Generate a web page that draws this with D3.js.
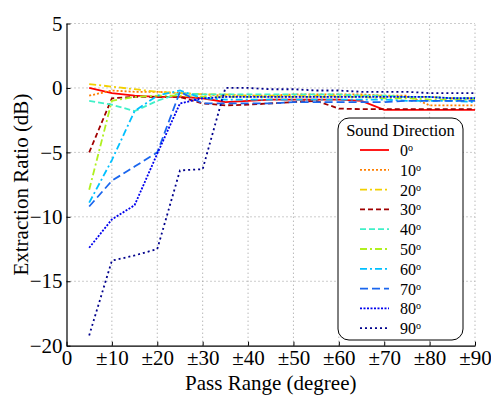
<!DOCTYPE html>
<html>
<head>
<meta charset="utf-8">
<script src="https://cdn.jsdelivr.net/npm/d3@7"></script>
<style>
  body { margin: 0; background: #fff; }
  svg { font-family: "Liberation Serif", "Times New Roman", serif; }
</style>
</head>
<body>
<div id="chart"></div>
<script>
// pass range (degree) sampled every 5
var passRange = [5, 10, 15, 20, 25, 30, 35, 40, 45, 50, 55, 60, 65, 70, 75, 80, 85, 90];

var dir0  = [0.0, -0.4, -0.6, -0.7, -0.7, -0.8, -1.1, -1.0, -0.9, -0.9, -0.9, -0.9, -1.0, -1.7, -1.7, -1.7, -1.7, -1.7];
var dir10 = [-0.6, -0.2, -0.3, -0.3, -0.4, -0.5, -0.6, -0.6, -0.6, -0.5, -0.5, -0.5, -0.5, -0.6, -0.6, -1.35, -1.35, -1.35];
var dir20 = [0.3, 0.1, -0.1, -0.3, -0.4, -0.5, -0.5, -0.6, -0.6, -0.6, -0.6, -0.6, -0.6, -0.6, -0.7, -0.7, -0.8, -0.8];
var dir30 = [-5.0, -0.8, -0.7, -0.7, -0.7, -1.2, -1.35, -1.3, -1.2, -1.1, -1.0, -1.6, -1.65, -1.65, -1.65, -1.65, -1.65, -1.65];
var dir40 = [-1.0, -1.3, -1.8, -1.0, -0.4, -0.5, -0.5, -0.5, -0.5, -0.5, -0.5, -0.5, -0.6, -0.6, -0.7, -0.7, -0.8, -0.8];
var dir50 = [-7.9, -1.0, -0.7, -0.6, -0.6, -0.7, -0.7, -0.7, -0.7, -0.7, -0.7, -0.7, -0.7, -0.8, -0.8, -0.9, -0.9, -0.9];
var dir60 = [-8.9, -5.6, -1.8, -0.6, -0.2, -0.8, -0.9, -0.9, -0.9, -0.9, -0.9, -0.9, -0.9, -0.9, -1.0, -1.0, -1.0, -1.1];
var dir70 = [-9.2, -7.2, -6.1, -5.0, -0.3, -1.2, -1.2, -1.2, -1.2, -1.1, -1.1, -1.1, -1.1, -1.1, -1.0, -1.0, -1.0, -1.0];
var dir80 = [-12.4, -10.2, -9.1, -5.1, -1.2, -0.8, -0.7, -0.7, -0.7, -0.7, -0.7, -0.7, -0.7, -0.7, -0.7, -0.7, -0.8, -0.8];
var dir90 = [-19.2, -13.4, -13.0, -12.5, -6.4, -6.3, 0.0, 0.0, -0.1, -0.1, -0.2, -0.2, -0.3, -0.3, -0.3, -0.4, -0.4, -0.4];

var directions = [0, 10, 20, 30, 40, 50, 60, 70, 80, 90];
var seriesValues = [dir0, dir10, dir20, dir30, dir40, dir50, dir60, dir70, dir80, dir90];

var xTicks = [0, 10, 20, 30, 40, 50, 60, 70, 80, 90];
var xTickLabels = ["0", "±10", "±20", "±30", "±40", "±50", "±60", "±70", "±80", "±90"];
var yTicks = [5, 0, -5, -10, -15, -20];

var colors = ["#ff0000", "#ff7f00", "#f2d000", "#a00000", "#40f0c8", "#b0f020", "#00c0ff", "#1a66ee", "#0000ee", "#00008c"];
var dashes = ["none", "2,2", "7,3,2,3", "5,3", "6,3", "7,3,2,3", "7,3,2,3", "8,4", "2,1.5", "2,3"];

var width = 491, height = 396;
var margin = {left: 66.5, right: 16, top: 23.5, bottom: 50.3};

var svg = d3.select("#chart").append("svg")
    .attr("width", width)
    .attr("height", height);

var x = d3.scaleLinear().domain([0, 90]).range([margin.left, width - margin.right]);
var y = d3.scaleLinear().domain([-20, 5]).range([height - margin.bottom, margin.top]);

// dotted grid
svg.append("g").selectAll("line")
    .data(xTicks.slice(1))
    .enter().append("line")
    .attr("x1", function(d) { return x(d); })
    .attr("x2", function(d) { return x(d); })
    .attr("y1", y(-20))
    .attr("y2", y(5))
    .attr("stroke", "#999")
    .attr("stroke-width", 1)
    .attr("stroke-dasharray", "1,3");

svg.append("g").selectAll("line")
    .data(yTicks.slice(0, -1))
    .enter().append("line")
    .attr("x1", x(0))
    .attr("x2", x(90))
    .attr("y1", function(d) { return y(d); })
    .attr("y2", function(d) { return y(d); })
    .attr("stroke", "#999")
    .attr("stroke-width", 1)
    .attr("stroke-dasharray", "1,3");

// axes, ticks pointing inward
var xAxis = svg.append("g")
    .attr("transform", "translate(0," + y(-20) + ")")
    .call(d3.axisBottom(x).tickValues(xTicks).tickSizeInner(-4).tickSizeOuter(0)
        .tickFormat(function(d, i) { return xTickLabels[i]; }));
xAxis.selectAll("text").attr("y", 4).attr("dy", "0.71em")
    .style("font-size", "21px").style("font-family", "Liberation Serif").attr("fill", "#000");

var yAxis = svg.append("g")
    .attr("transform", "translate(" + x(0) + ",0)")
    .call(d3.axisLeft(y).tickValues(yTicks).tickSizeInner(-4).tickSizeOuter(0));
yAxis.selectAll("text").attr("x", -4)
    .style("font-size", "21px").style("font-family", "Liberation Serif").attr("fill", "#000");

svg.selectAll(".domain").attr("stroke", "#000").attr("stroke-width", 1.2);
svg.selectAll(".tick line").attr("stroke", "#000");

// lines
var line = d3.line()
    .x(function(d, i) { return x(passRange[i]); })
    .y(function(d) { return y(d); });

svg.append("g").selectAll("path")
    .data(seriesValues)
    .enter().append("path")
    .attr("d", line)
    .attr("fill", "none")
    .attr("stroke", function(d, i) { return colors[i]; })
    .attr("stroke-width", 1.8)
    .attr("stroke-dasharray", function(d, i) { return dashes[i]; });

// axis titles
svg.append("text")
    .attr("x", (x(0) + x(90)) / 2)
    .attr("y", 390)
    .attr("text-anchor", "middle")
    .style("font-size", "21px")
    .text("Pass Range (degree)");

svg.append("text")
    .attr("transform", "translate(28," + ((y(5) + y(-20)) / 2) + ") rotate(-90)")
    .attr("text-anchor", "middle")
    .style("font-size", "21px")
    .text("Extraction Ratio  (dB)");

// legend
var legend = svg.append("g").attr("transform", "translate(338,118)");
legend.append("rect")
    .attr("width", 125)
    .attr("height", 222)
    .attr("rx", 11)
    .attr("fill", "#fff")
    .attr("stroke", "#000")
    .attr("stroke-width", 1);

legend.append("text")
    .attr("x", 62.5)
    .attr("y", 18)
    .attr("text-anchor", "middle")
    .style("font-size", "16.5px")
    .text("Sound Direction");

var item = legend.selectAll(".item")
    .data(directions)
    .enter().append("g")
    .attr("class", "item")
    .attr("transform", function(d, i) { return "translate(0," + (32 + i * 19.8) + ")"; });

item.append("line")
    .attr("x1", 22).attr("x2", 51)
    .attr("stroke", function(d, i) { return colors[i]; })
    .attr("stroke-width", 1.8)
    .attr("stroke-dasharray", function(d, i) { return dashes[i]; });

var lbl = item.append("text")
    .attr("x", 62)
    .attr("y", 6)
    .style("font-size", "16px");
lbl.append("tspan").text(function(d) { return d; });
lbl.append("tspan").attr("dy", -5).style("font-size", "10px").text("o");
</script>
</body>
</html>
